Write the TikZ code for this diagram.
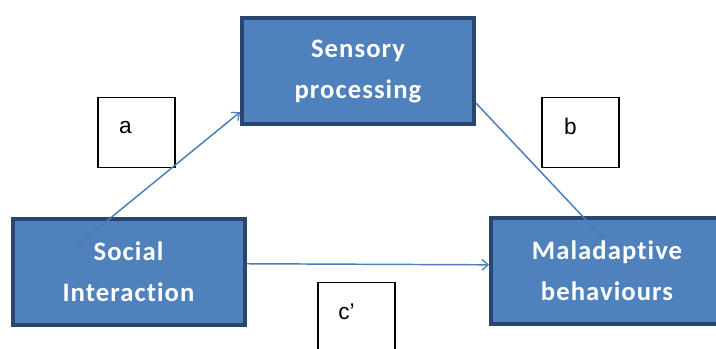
\documentclass[tikz,border=0pt]{standalone}
\usepackage{fontspec}
\setmainfont{Carlito}
\newfontfamily\boxfont[LetterSpace=4,Ligatures={NoCommon}]{Carlito}
\newfontfamily\arialf{Liberation Sans}
\usetikzlibrary{arrows.meta,calc}
\definecolor{boxfill}{HTML}{4F81BD}
\definecolor{boxline}{HTML}{2A4670}
\definecolor{arrowc}{HTML}{4A7EBB}
\begin{document}
\begin{tikzpicture}[x=0.75pt,y=-0.75pt,
  varbox/.style={draw=boxline, line width=3pt, fill=boxfill, minimum width=174pt, minimum height=79.5pt,
    text=white, align=center, font=\boxfont\fontsize{20}{31}\selectfont\bfseries, inner sep=0pt},
  pathbox/.style={draw=black, line width=1.1pt, fill=white, minimum width=58pt, minimum height=52.5pt, inner sep=0pt},
  pathlbl/.style={font=\arialf\fontsize{17}{20}\selectfont},
  conn/.style={draw=arrowc, line width=1.1pt},
  tip/.style={-{Straight Barb[length=4.5pt,width=8pt,line width=1pt]}}]
\useasboundingbox (0,0) rectangle (716,349);
\clip (0,0) rectangle (716,349);
\fill[white] (0,0) rectangle (716,349);
% main boxes
\node[varbox] (soc) at (128.5,272) {Social\\Interaction};
\node[varbox] (sens) at (358,71.5) {Sensory\\processing};
\node[varbox] (mal) at (607,271) {Maladaptive\\behaviours};
% path label boxes
\node[pathbox, label={[pathlbl, shift={(-11,-5)}]center:a}] (la) at (136.5,132.5) {};
\node[pathbox, label={[pathlbl, shift={(-10,-6)}]center:b}] (lb) at (580.5,132.5) {};
\node[pathbox, label={[pathlbl, shift={(-10,-6)}]center:c\textquoteright}] (lc) at (356.5,317.5) {};
% connectors
\coordinate (astart) at (75,247);
\coordinate (bend) at (603,238);
\draw[conn, tip] (astart) -- (sens.199);
\draw[conn] (sens.345.5) -- (bend);
\draw[conn, tip] (soc.4) -- (mal.177);
\end{tikzpicture}
\end{document}
